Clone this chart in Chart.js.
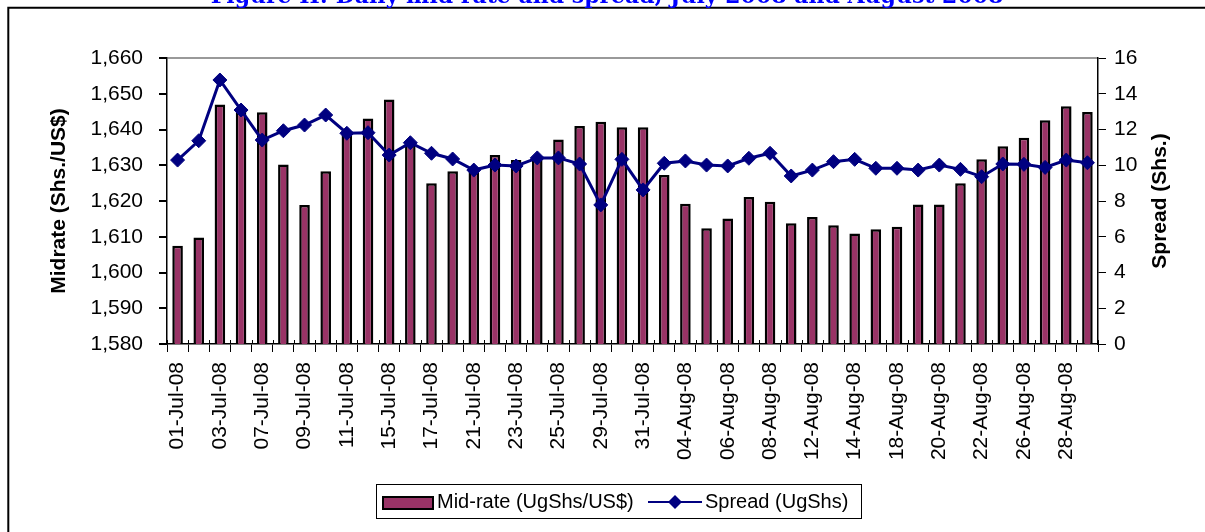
<html>
<script src="https://cdn.jsdelivr.net/npm/chart.js@4.4.0/dist/chart.umd.min.js"></script>

<body style="margin:0;background:#fff;overflow:hidden">

    <canvas id="myChart" width="1205" height="532" style="display:block"></canvas>

    <script>
        // trading days, Jul - Aug 2008
        const dates = ["01-Jul-08", "02-Jul-08", "03-Jul-08", "04-Jul-08", "07-Jul-08", "08-Jul-08", "09-Jul-08", "10-Jul-08",
            "11-Jul-08", "14-Jul-08", "15-Jul-08", "16-Jul-08", "17-Jul-08", "18-Jul-08", "21-Jul-08", "22-Jul-08",
            "23-Jul-08", "24-Jul-08", "25-Jul-08", "28-Jul-08", "29-Jul-08", "30-Jul-08", "31-Jul-08", "01-Aug-08",
            "04-Aug-08", "05-Aug-08", "06-Aug-08", "07-Aug-08", "08-Aug-08", "11-Aug-08", "12-Aug-08", "13-Aug-08",
            "14-Aug-08", "15-Aug-08", "18-Aug-08", "19-Aug-08", "20-Aug-08", "21-Aug-08", "22-Aug-08", "25-Aug-08",
            "26-Aug-08", "27-Aug-08", "28-Aug-08", "29-Aug-08"];

        const midRate = [1607.5, 1609.8, 1647.0, 1645.5, 1644.8, 1630.2, 1618.9, 1628.3, 1638.5, 1643.1, 1648.4,
            1636.0, 1625.0, 1628.3, 1628.5, 1632.9, 1631.5, 1631.8, 1637.2, 1641.0, 1642.2, 1640.6, 1640.6, 1627.3,
            1619.2, 1612.4, 1615.1, 1621.1, 1619.8, 1613.8, 1615.5, 1613.2, 1610.9, 1612.1, 1612.8, 1619.0, 1619.0,
            1625.0, 1631.7, 1635.3, 1637.7, 1642.6, 1646.5, 1644.9];

        const spread = [10.29, 11.37, 14.77, 13.09, 11.41, 11.93, 12.25, 12.81, 11.79, 11.82, 10.57, 11.26, 10.67,
            10.35, 9.73, 10.01, 9.96, 10.41, 10.41, 10.07, 7.78, 10.33, 8.62, 10.11, 10.24, 10.01, 9.96, 10.39, 10.67,
            9.40, 9.73, 10.20, 10.33, 9.83, 9.83, 9.73, 10.01, 9.77, 9.36, 10.07, 10.05, 9.88, 10.29, 10.14];

        const seriesNames = ["Mid-rate (UgShs/US$)", "Spread (UgShs)"];
        const titleText = "Figure II: Daily mid rate and spread, July 2008 and August 2008";
        const leftTitle = "Midrate (Shs./US$)";
        const rightTitle = "Spread (Shs.)";

        const barColor = "#993366";
        const lineColor = "#000080";
        const fam = "'Liberation Sans', Arial, sans-serif";

        Chart.defaults.font.family = fam;
        Chart.defaults.font.size = 21;
        Chart.defaults.color = "#000";

        // frame, title, axis titles and legend
        const decor = {
            id: "decor",
            afterDraw(chart) {
                const ctx = chart.ctx;
                const area = chart.chartArea;
                ctx.save();

                ctx.strokeStyle = "#000";
                ctx.lineWidth = 2;
                ctx.beginPath();
                ctx.moveTo(8.3, 560);
                ctx.lineTo(8.3, 7.7);
                ctx.lineTo(1230, 7.7);
                ctx.stroke();

                ctx.fillStyle = "#0000ff";
                ctx.font = "bold 22px 'DejaVu Serif'";
                ctx.textAlign = "center";
                ctx.textBaseline = "alphabetic";
                ctx.fillText(titleText, 607, 2.5);

                const midY = (area.top + area.bottom) / 2;
                ctx.fillStyle = "#000";
                ctx.font = "bold 21px " + fam;
                ctx.textBaseline = "middle";
                ctx.save();
                ctx.translate(59, midY);
                ctx.rotate(-Math.PI / 2);
                ctx.fillText(leftTitle, 0, 0);
                ctx.restore();
                ctx.save();
                ctx.translate(1160, midY);
                ctx.rotate(-Math.PI / 2);
                ctx.fillText(rightTitle, 0, 0);
                ctx.restore();

                // x axis ticks cross the axis a little
                ctx.strokeStyle = "#000";
                ctx.lineWidth = 1;
                const xs = chart.scales.x;
                ctx.beginPath();
                for (let i = 0; i <= dates.length; i++) {
                    const px = Math.round(xs.getPixelForTick(0) - (xs.getPixelForTick(1) - xs.getPixelForTick(0)) / 2 +
                        i * (xs.getPixelForTick(1) - xs.getPixelForTick(0))) + 0.5;
                    ctx.moveTo(px, area.bottom - 4);
                    ctx.lineTo(px, area.bottom);
                }
                ctx.stroke();

                // legend
                ctx.lineWidth = 1;
                ctx.strokeStyle = "#000";
                ctx.strokeRect(376.5, 484.5, 485, 34);
                ctx.fillStyle = barColor;
                ctx.fillRect(383, 497, 50, 12);
                ctx.lineWidth = 2;
                ctx.strokeRect(383, 497, 50, 12);
                ctx.font = "20px " + fam;
                ctx.fillStyle = "#000";
                ctx.textAlign = "left";
                ctx.fillText(seriesNames[0], 437, 502);
                ctx.strokeStyle = lineColor;
                ctx.lineWidth = 2;
                ctx.beginPath();
                ctx.moveTo(648, 502);
                ctx.lineTo(702, 502);
                ctx.stroke();
                ctx.fillStyle = lineColor;
                ctx.beginPath();
                ctx.moveTo(675, 495);
                ctx.lineTo(682, 502);
                ctx.lineTo(675, 509);
                ctx.lineTo(668, 502);
                ctx.closePath();
                ctx.fill();
                ctx.fillStyle = "#000";
                ctx.fillText(seriesNames[1], 705, 502);

                ctx.restore();
            }
        };

        new Chart("myChart", {
            type: "bar",
            data: {
                labels: dates,
                datasets: [{
                    type: "line",
                    label: seriesNames[1],
                    data: spread,
                    yAxisID: "y1",
                    borderColor: lineColor,
                    backgroundColor: lineColor,
                    borderWidth: 3,
                    pointStyle: "rectRot",
                    pointRadius: 7,
                    pointBorderWidth: 1,
                    tension: 0,
                    order: 1
                }, {
                    label: seriesNames[0],
                    data: midRate,
                    yAxisID: "y",
                    backgroundColor: barColor,
                    borderColor: "#000",
                    borderWidth: 2.5,
                    barPercentage: 0.5,
                    categoryPercentage: 1,
                    order: 2
                }]
            },
            options: {
                responsive: false,
                animation: false,
                layout: { padding: { top: 58, bottom: 68, left: 0, right: 0 } },
                plugins: {
                    legend: { display: false },
                    tooltip: { enabled: false }
                },
                scales: {
                    x: {
                        offset: true,
                        grid: { offset: true, drawOnChartArea: false, tickLength: 8, tickColor: "#000" },
                        border: { display: true, color: "#000", width: 1.5 },
                        ticks: {
                            autoSkip: false,
                            maxRotation: 90,
                            minRotation: 90,
                            padding: 10,
                            font: { size: 21 },
                            callback: function (v, i) { return i % 2 === 0 ? dates[i] : ""; }
                        },
                        afterFit: function (s) { s.height = 120; }
                    },
                    y: {
                        position: "left",
                        min: 1580,
                        max: 1660,
                        grid: {
                            color: function (c) { return c.tick && c.tick.value === 1660 ? "#999" : "rgba(0,0,0,0)"; },
                            lineWidth: 2,
                            tickLength: 8,
                            tickColor: "#000"
                        },
                        border: { display: true, color: "#000", width: 1.5 },
                        ticks: {
                            stepSize: 10,
                            padding: 16,
                            font: { size: 21 },
                            callback: function (v) { return v.toLocaleString("en-US"); }
                        },
                        afterFit: function (s) { s.width = 167; }
                    },
                    y1: {
                        position: "right",
                        min: 0,
                        max: 16,
                        grid: { drawOnChartArea: false, tickLength: 8, tickColor: "#000" },
                        border: { display: true, color: "#000", width: 1.5 },
                        ticks: { stepSize: 2, padding: 8, font: { size: 21 } },
                        afterFit: function (s) { s.width = 107; }
                    }
                }
            },
            plugins: [decor]
        });
    </script>

</body>

</html>
